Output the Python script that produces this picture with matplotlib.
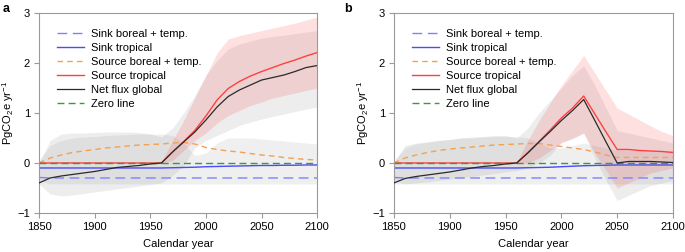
import matplotlib
matplotlib.use("Agg")
import matplotlib.pyplot as plt

plt.rcParams["font.family"] = ["Liberation Sans", "DejaVu Sans"]
plt.rcParams["mathtext.default"] = "regular"
plt.rcParams["font.size"] = 8

# decade nodes used by both panels
years = [1850, 1860, 1870, 1880, 1890, 1900, 1910, 1920, 1930, 1940, 1950, 1960, 1970,
         1980, 1990, 2000, 2010, 2020, 2030, 2040, 2050, 2060, 2070, 2080, 2090, 2100]

# ---- panel a ----
sink_bor_a = [-0.29, -0.30, -0.30, -0.30, -0.30, -0.30, -0.30, -0.30, -0.30, -0.30, -0.30, -0.30, -0.30,
              -0.30, -0.30, -0.30, -0.30, -0.30, -0.30, -0.30, -0.30, -0.30, -0.30, -0.30, -0.30, -0.30]
sink_trop_a = [-0.10, -0.10, -0.10, -0.10, -0.10, -0.10, -0.10, -0.10, -0.10, -0.10, -0.10, -0.10, -0.095,
               -0.09, -0.085, -0.075, -0.07, -0.065, -0.06, -0.055, -0.05, -0.05, -0.045, -0.045, -0.04, -0.04]
src_bor_a = [0.00, 0.10, 0.16, 0.21, 0.24, 0.27, 0.30, 0.32, 0.34, 0.36, 0.37, 0.38, 0.40,
             0.41, 0.38, 0.31, 0.27, 0.24, 0.22, 0.19, 0.16, 0.14, 0.11, 0.09, 0.07, 0.06]
src_trop_a = [0.00, 0.00, 0.00, 0.00, 0.00, 0.00, 0.00, 0.00, 0.00, 0.00, 0.00, 0.00, 0.22,
              0.43, 0.65, 0.94, 1.26, 1.49, 1.63, 1.74, 1.83, 1.91, 1.99, 2.06, 2.14, 2.21]
net_a = [-0.40, -0.30, -0.26, -0.23, -0.20, -0.17, -0.13, -0.09, -0.07, -0.05, -0.02, 0.00, 0.22,
         0.42, 0.62, 0.86, 1.12, 1.33, 1.46, 1.56, 1.66, 1.71, 1.76, 1.83, 1.91, 1.95]

net_lo_a = [-0.42, -0.62, -0.66, -0.64, -0.61, -0.58, -0.55, -0.52, -0.49, -0.46, -0.43, -0.40, -0.25,
            -0.05, 0.30, 0.45, 0.55, 0.65, 0.75, 0.82, 0.88, 0.93, 0.98, 1.03, 1.08, 1.12]
net_hi_a = [0.00, 0.45, 0.58, 0.60, 0.60, 0.61, 0.62, 0.62, 0.62, 0.61, 0.58, 0.52, 0.70,
            1.00, 1.35, 1.75, 2.05, 2.28, 2.38, 2.44, 2.50, 2.53, 2.56, 2.59, 2.62, 2.65]
pink_lo_a = [0.00, 0.00, 0.00, 0.00, 0.00, 0.00, 0.00, 0.00, 0.00, 0.00, 0.00, 0.00, 0.05,
             0.25, 0.45, 0.60, 0.80, 0.95, 1.05, 1.15, 1.22, 1.30, 1.35, 1.40, 1.45, 1.50]
pink_hi_a = [0.00, 0.00, 0.00, 0.00, 0.00, 0.00, 0.00, 0.00, 0.00, 0.00, 0.00, 0.02, 0.45,
             0.85, 1.30, 1.75, 2.20, 2.48, 2.55, 2.60, 2.65, 2.70, 2.75, 2.80, 2.86, 2.92]
oth_lo_a = [-0.36, -0.42, -0.42, -0.42, -0.42, -0.42, -0.42, -0.42, -0.42, -0.42, -0.42, -0.42, -0.42,
            -0.42, -0.42, -0.42, -0.42, -0.42, -0.42, -0.42, -0.42, -0.42, -0.42, -0.42, -0.42, -0.42]
oth_hi_a = [0.05, 0.35, 0.45, 0.50, 0.52, 0.53, 0.55, 0.56, 0.57, 0.58, 0.58, 0.58, 0.55,
            0.40, 0.15, 0.20, 0.40, 0.50, 0.50, 0.50, 0.48, 0.46, 0.44, 0.42, 0.40, 0.38]

# ---- panel b ----
sink_bor_b = [-0.29, -0.30, -0.30, -0.30, -0.30, -0.30, -0.30, -0.30, -0.30, -0.30, -0.30, -0.30, -0.30,
              -0.30, -0.30, -0.30, -0.30, -0.30, -0.30, -0.30, -0.30, -0.30, -0.30, -0.30, -0.30, -0.30]
sink_trop_b = [-0.10, -0.10, -0.10, -0.10, -0.10, -0.10, -0.10, -0.10, -0.10, -0.10, -0.10, -0.10, -0.095,
               -0.09, -0.085, -0.075, -0.065, -0.055, -0.05, -0.045, -0.04, -0.04, -0.04, -0.04, -0.04, -0.04]
src_bor_b = [0.00, 0.10, 0.16, 0.21, 0.25, 0.28, 0.30, 0.32, 0.34, 0.36, 0.37, 0.38, 0.39,
             0.39, 0.36, 0.33, 0.30, 0.27, 0.22, 0.16, 0.11, 0.11, 0.11, 0.11, 0.11, 0.11]
src_trop_b = [0.00, 0.00, 0.00, 0.00, 0.00, 0.00, 0.00, 0.00, 0.00, 0.00, 0.00, 0.00, 0.21,
              0.43, 0.66, 0.90, 1.10, 1.34, 0.98, 0.62, 0.27, 0.27, 0.25, 0.24, 0.23, 0.21]
net_b = [-0.40, -0.31, -0.27, -0.24, -0.21, -0.18, -0.14, -0.10, -0.07, -0.05, -0.02, 0.00, 0.20,
         0.42, 0.63, 0.85, 1.05, 1.27, 0.85, 0.42, 0.00, 0.03, 0.03, 0.03, 0.02, 0.01]

net_lo_b = [-0.42, -0.42, -0.40, -0.38, -0.35, -0.32, -0.30, -0.27, -0.24, -0.21, -0.18, -0.15, -0.10,
            0.00, 0.15, 0.42, 0.48, 0.60, 0.10, -0.35, -0.75, -0.65, -0.55, -0.45, -0.40, -0.35]
net_hi_b = [0.00, 0.35, 0.40, 0.42, 0.45, 0.47, 0.50, 0.52, 0.53, 0.55, 0.55, 0.50, 0.70,
            1.00, 1.25, 1.50, 1.75, 1.95, 1.55, 1.10, 0.65, 0.60, 0.55, 0.50, 0.45, 0.40]
pink_lo_b = [0.00, 0.00, 0.00, 0.00, 0.00, 0.00, 0.00, 0.00, 0.00, 0.00, 0.00, 0.00, 0.00,
             0.10, 0.25, 0.40, 0.50, 0.60, 0.20, -0.15, -0.50, -0.40, -0.30, -0.20, -0.15, -0.10]
pink_hi_b = [0.00, 0.00, 0.00, 0.00, 0.00, 0.00, 0.00, 0.00, 0.00, 0.00, 0.00, 0.02, 0.45,
             0.85, 1.20, 1.55, 1.85, 2.15, 1.80, 1.45, 1.10, 0.98, 0.86, 0.74, 0.63, 0.55]
oth_lo_b = [-0.36, -0.42, -0.42, -0.42, -0.42, -0.42, -0.42, -0.42, -0.42, -0.42, -0.42, -0.42, -0.42,
            -0.42, -0.42, -0.42, -0.42, -0.42, -0.42, -0.42, -0.42, -0.42, -0.42, -0.42, -0.42, -0.42]
oth_hi_b = [0.05, 0.30, 0.38, 0.42, 0.45, 0.47, 0.50, 0.50, 0.52, 0.53, 0.53, 0.53, 0.50,
            0.40, 0.30, 0.30, 0.35, 0.40, 0.35, 0.30, 0.25, 0.25, 0.25, 0.25, 0.25, 0.25]

labels = ["Sink boreal + temp.", "Sink tropical", "Source boreal + temp.",
          "Source tropical", "Net flux global", "Zero line"]

SPINE = "#9a9a9a"


def draw_panel(ax, sink_bor, sink_trop, src_bor, src_trop, net,
               oth_lo, oth_hi, net_lo, net_hi, pink_lo, pink_hi):
    ax.fill_between(years, oth_lo, oth_hi, color="grey", alpha=0.12, lw=0)
    ax.fill_between(years, net_lo, net_hi, color="grey", alpha=0.14, lw=0)
    ax.fill_between(years, pink_lo, pink_hi, color="#ff3030", alpha=0.15, lw=0)

    ax.plot(years, sink_bor, color="#8080ff", lw=1, dashes=(7, 4), label=labels[0], zorder=2.1)
    ax.plot(years, sink_trop, color="#4a4aff", lw=1, label=labels[1], zorder=2.1)
    ax.plot(years, src_bor, color="#f5a050", lw=1, dashes=(4, 3), label=labels[2], zorder=2.1)
    ax.plot(years, src_trop, color="#ff4040", lw=1, label=labels[3], zorder=2.2)
    ax.plot(years, net, color="#2a2a2a", lw=0.9, label=labels[4], zorder=2.8)
    ax.axhline(0, color="#3a9a3a", lw=1, dashes=(5, 3), label=labels[5], zorder=2.5)

    ax.set_xlim(1850, 2100)
    ax.set_ylim(-1, 3)
    ax.set_xticks([1850, 1900, 1950, 2000, 2050, 2100])
    ax.set_yticks([-1, 0, 1, 2, 3])
    ax.set_xlabel("Calendar year", fontsize=8, labelpad=5)
    ax.set_ylabel("PgCO$_2$e yr$^{-1}$", fontsize=8, labelpad=1)
    for s in ax.spines.values():
        s.set_color(SPINE)
        s.set_linewidth(0.8)
    ax.tick_params(direction="out", length=3.5, width=0.8, color=SPINE, labelsize=8, pad=3)
    ax.legend(loc="upper left", bbox_to_anchor=(0.05, 0.945), frameon=False, fontsize=8,
              handlelength=2.4, handletextpad=0.6, labelspacing=0.37, borderaxespad=0)


fig = plt.figure(figsize=(6.85, 2.52), dpi=100)
ax_a = fig.add_axes([0.057, 0.155, 0.406, 0.793])
ax_b = fig.add_axes([0.575, 0.155, 0.4075, 0.793])

draw_panel(ax_a, sink_bor_a, sink_trop_a, src_bor_a, src_trop_a, net_a,
           oth_lo_a, oth_hi_a, net_lo_a, net_hi_a, pink_lo_a, pink_hi_a)
draw_panel(ax_b, sink_bor_b, sink_trop_b, src_bor_b, src_trop_b, net_b,
           oth_lo_b, oth_hi_b, net_lo_b, net_hi_b, pink_lo_b, pink_hi_b)

fig.text(0.004, 0.965, "a", fontsize=9, fontweight="bold", va="center")
fig.text(0.503, 0.965, "b", fontsize=9, fontweight="bold", va="center")

fig.savefig("out.png", dpi=100)
